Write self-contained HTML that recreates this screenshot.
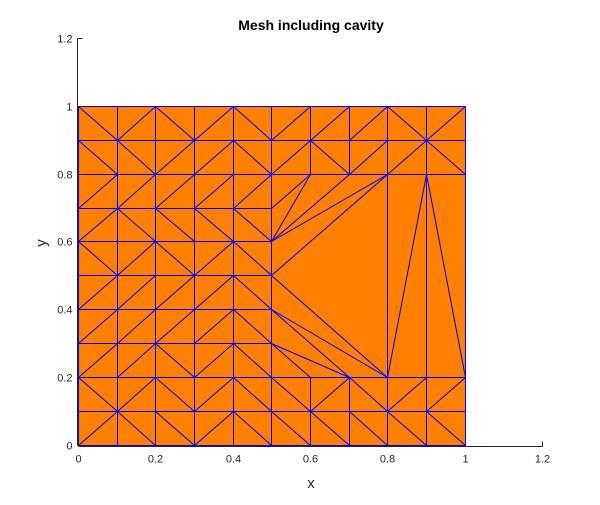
<!DOCTYPE html>
<html><head><meta charset="utf-8"><style>
body{margin:0;background:#fff;}
svg text{font-family:"Liberation Sans",Arial,sans-serif;fill:#262626;}
</style></head><body>
<svg id="c" width="600" height="500" xmlns="http://www.w3.org/2000/svg"></svg>
<script>
const xTicks=[0,0.2,0.4,0.6,0.8,1,1.2];
const yTicks=[0,0.2,0.4,0.6,0.8,1,1.2];
const xTickLabels=["0","0.2","0.4","0.6","0.8","1","1.2"];
const yTickLabels=["0","0.2","0.4","0.6","0.8","1","1.2"];
// diagonals per row (row 0 = y 0..0.1), a='/', b='\', '-'=none
const diagRows=["abbabbbbbb","bababbabaa","aabab-----","aaaab-----","aaaab-----","babab-----","abbbb-----","aaaaa-----","bbaababaab","bababaaaba"];
const hLines=[[0,1,0],[0,1,0.1],[0,1,0.2],[0,0.5,0.3],[0,0.5,0.4],[0,0.5,0.5],[0,0.5,0.6],[0,0.5,0.7],[0,1,0.8],[0,1,0.9],[0,1,1]];
const vLines=[[0,0,1],[0.1,0,1],[0.2,0,1],[0.3,0,1],[0.4,0,1],[0.5,0,1],[0.6,0,0.2],[0.6,0.8,1],[0.7,0,0.2],[0.7,0.8,1],[0.8,0,1],[0.9,0,1],[1,0,1]];
const extraEdges=[[0.5,0.7,0.6,0.8],[0.5,0.6,0.6,0.8],[0.5,0.6,0.7,0.8],[0.5,0.6,0.8,0.8],[0.5,0.5,0.8,0.8],[0.5,0.5,0.8,0.2],[0.5,0.4,0.8,0.2],[0.5,0.4,0.7,0.2],[0.5,0.3,0.7,0.2],[0.5,0.3,0.6,0.2],[0.8,0.2,0.9,0.8],[0.9,0.8,1,0.2]];
const NS="http://www.w3.org/2000/svg";
const svg=document.getElementById('c');
const X=v=>Math.round(78+v*386.7)+0.5, Y=v=>Math.round(445-v*339.2)+0.5;
function el(t,a,p){const e=document.createElementNS(NS,t);for(const k in a)e.setAttribute(k,a[k]);(p||svg).appendChild(e);return e;}
const fill=el('rect',{x:X(0),y:Y(1),width:X(1)-X(0),height:Y(0)-Y(1),fill:'#ff8000'});


const g=el('g',{stroke:'#0000ff','stroke-width':1,fill:'none'});


function seg(x1,y1,x2,y2){const l=el('line',{x1:X(x1),y1:Y(y1),x2:X(x2),y2:Y(y2)},g);

}
hLines.forEach(h=>seg(h[0],h[2],h[1],h[2]));
vLines.forEach(v=>seg(v[0],v[1],v[0],v[2]));
diagRows.forEach((r,j)=>{for(let i=0;i<10;i++){const c=r[i];const x0=i/10,y0=j/10;
if(c==='a')seg(x0,y0,x0+0.1,y0+0.1);else if(c==='b')seg(x0,y0+0.1,x0+0.1,y0);}});
extraEdges.forEach(e=>seg(e[0],e[1],e[2],e[3]));
const ax=el('g',{stroke:'#262626','stroke-width':1,fill:'none'});


el('line',{x1:X(0),y1:Y(0)+1,x2:X(1.2),y2:Y(0)+1},ax);
el('line',{x1:X(0)-1,y1:Y(0),x2:X(0)-1,y2:Y(1.2)},ax);
xTicks.forEach((v,i)=>{el('line',{x1:X(v),y1:Y(0)+1,x2:X(v),y2:Y(0)-4},ax);
const t=el('text',{x:X(v),y:Y(0)+17,'text-anchor':'middle','font-size':11});t.textContent=xTickLabels[i];

});
yTicks.forEach((v,i)=>{el('line',{x1:X(0)-1,y1:Y(v),x2:X(0)+4,y2:Y(v)},ax);
const t=el('text',{x:X(0)-6,y:Y(v)+4,'text-anchor':'end','font-size':11});t.textContent=yTickLabels[i];

});
</script>
<svg width="600" height="500" style="position:absolute;left:0;top:0" xmlns="http://www.w3.org/2000/svg">
<text x="311" y="30" text-anchor="middle" font-size="14" font-weight="bold" style="font-family:'Liberation Sans',sans-serif;fill:#000">Mesh including cavity</text>
<text x="311" y="488" text-anchor="middle" font-size="15" style="font-family:'Liberation Sans',sans-serif;fill:#262626">x</text>
<text x="46" y="243" text-anchor="middle" font-size="15" transform="rotate(-90 46 243)" style="font-family:'Liberation Sans',sans-serif;fill:#262626">y</text>
</svg>
</body></html>
